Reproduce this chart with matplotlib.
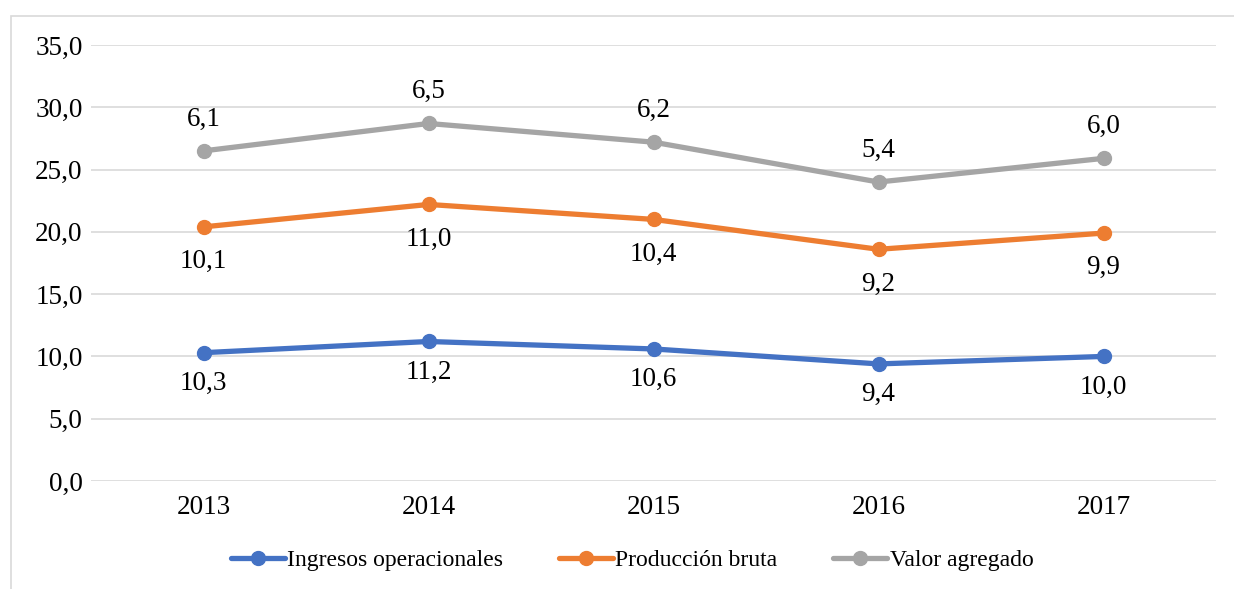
import numpy as np
import matplotlib.pyplot as plt
from matplotlib.patches import Rectangle

## data (stacked values, labels show each series' own value)
years = ["2013", "2014", "2015", "2016", "2017"]
ingresos = [10.3, 11.2, 10.6, 9.4, 10.0]
produccion = [10.1, 11.0, 10.4, 9.2, 9.9]
valor = [6.1, 6.5, 6.2, 5.4, 6.0]
names = ["Ingresos operacionales", "Producción bruta", "Valor agregado"]
colors = ["#4472C4", "#ED7D31", "#A5A5A5"]
yticks = [0, 5, 10, 15, 20, 25, 30, 35]

plt.rcParams['font.family'] = ['Liberation Serif', 'DejaVu Serif']
fs = 19.5

fig = plt.figure(figsize=(12.34, 5.89), dpi=100)
ax = fig.add_axes([91/1234, 1-481/589, (1216-91)/1234, (481-45)/589])

# outer chart border
fig.patches.append(Rectangle((11/1234, -0.01), 1.1, 1-16/589+0.01, transform=fig.transFigure,
                             fill=False, edgecolor="#D9D9D9", linewidth=1.2))

x = np.arange(len(years))
cum = np.zeros(len(years))
offsets = [-22, -25, 23]
for vals, name, c, off in zip([ingresos, produccion, valor], names, colors, offsets):
	cum = cum + np.array(vals)
	ax.plot(x, cum, color=c, lw=3.8, marker="o", ms=10, label=name, solid_capstyle="round", zorder=3)
	for xi, yi, v in zip(x, cum, vals):
		ax.annotate(f"{v:.1f}".replace(".", ","), (xi, yi), xytext=(0, off), textcoords="offset points",
			ha="center", va="center", fontsize=fs, color="#000000")

ax.set_xlim(-0.5, 4.5)
ax.set_ylim(0, 35)
ax.set_yticks(yticks)
ax.set_yticklabels([f"{t:.1f}".replace(".", ",") for t in yticks])
ax.set_xticks(x)
ax.set_xticklabels(years)
ax.tick_params(length=0, labelsize=fs)
ax.tick_params(axis="x", pad=10)
ax.tick_params(axis="y", pad=6)
ax.grid(axis="y", color="#D9D9D9", lw=1.2)
ax.set_axisbelow(True)
for s in ax.spines.values():
	s.set_visible(False)

ax.legend(loc="center", bbox_to_anchor=(632/1234, (589-560)/589), bbox_transform=fig.transFigure,
	ncol=3, frameon=False, fontsize=17, handlelength=2.3, handletextpad=0.1, columnspacing=2.35)

fig.savefig("out.png", dpi=100)
